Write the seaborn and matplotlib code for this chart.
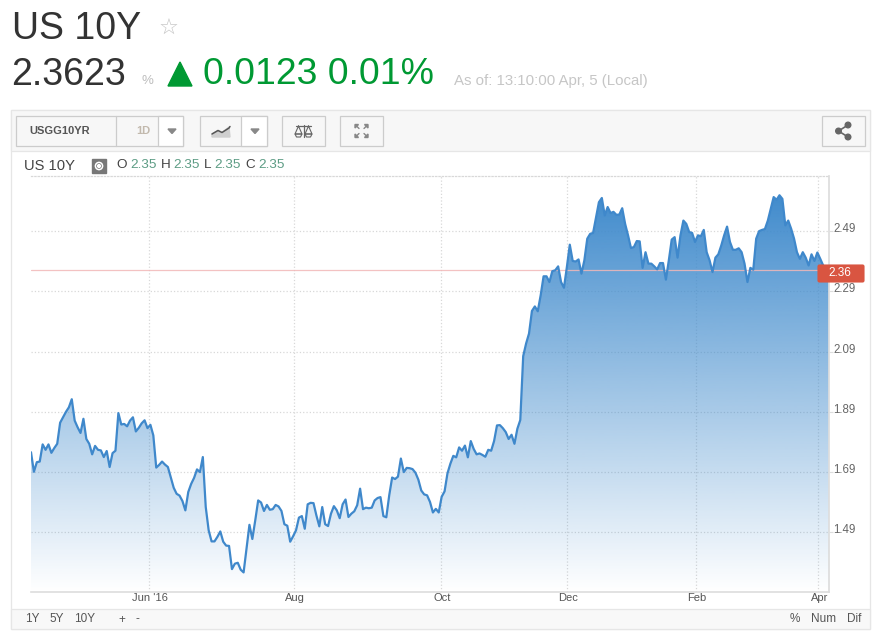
import numpy as np
import pandas as pd
import seaborn as sns
import matplotlib.pyplot as plt
from matplotlib.patches import Rectangle, Polygon, Circle, FancyBboxPatch
from matplotlib.transforms import ScaledTranslation

# daily closes of the US 10Y yield
yields_spring = [
    1.756, 1.691, 1.723, 1.725, 1.782, 1.764, 1.782, 1.754, 1.770, 1.784, 1.854, 1.872, 1.890, 1.905, 1.932,
    1.861, 1.839, 1.820, 1.867, 1.800, 1.784, 1.749, 1.777, 1.764, 1.762, 1.740, 1.760, 1.707, 1.753, 1.761,
    1.886, 1.848, 1.850, 1.842, 1.861, 1.872, 1.825, 1.837, 1.852, 1.862, 1.836, 1.847, 1.812, 1.705, 1.714,
    1.725, 1.715, 1.707, 1.673, 1.638, 1.618, 1.612, 1.594, 1.563, 1.624, 1.651, 1.671, 1.699, 1.690, 1.740,
    1.574, 1.497, 1.460, 1.460, 1.475, 1.493, 1.459, 1.446, 1.445, 1.368, 1.386, 1.389, 1.366, 1.357, 1.436,
    1.515, 1.468, 1.530, 1.596, 1.589, 1.561, 1.581, 1.565,
]
yields_summer = [
    1.567, 1.581, 1.576, 1.561, 1.517, 1.512, 1.459, 1.477, 1.497, 1.539, 1.544, 1.502, 1.583, 1.588, 1.587,
    1.546, 1.510, 1.574, 1.517, 1.511, 1.552, 1.577, 1.563, 1.537, 1.583, 1.599, 1.541, 1.552, 1.560, 1.580,
    1.635, 1.567, 1.572, 1.570, 1.572, 1.596, 1.604, 1.607, 1.544, 1.540, 1.613, 1.672, 1.667, 1.675, 1.735,
    1.690, 1.704, 1.703, 1.700, 1.688, 1.665, 1.629, 1.616, 1.613, 1.591, 1.556, 1.568, 1.556, 1.608, 1.626,
    1.686, 1.718, 1.744, 1.739, 1.772, 1.761, 1.778, 1.739, 1.793, 1.767, 1.749, 1.752, 1.747, 1.741, 1.764,
    1.761, 1.793, 1.845, 1.846, 1.836, 1.823, 1.800, 1.814, 1.784, 1.834, 1.863,
]
yields_winter = [
    2.075, 2.117, 2.150, 2.225, 2.240, 2.224, 2.277, 2.340, 2.340, 2.321, 2.357, 2.360, 2.373, 2.321, 2.302,
    2.371, 2.445, 2.391, 2.389, 2.396, 2.349, 2.393, 2.465, 2.481, 2.484, 2.536, 2.586, 2.600, 2.542, 2.570,
    2.550, 2.554, 2.544, 2.545, 2.566, 2.514, 2.476, 2.434, 2.437, 2.457, 2.456, 2.368, 2.420, 2.382, 2.382,
    2.373, 2.363, 2.384, 2.384, 2.329, 2.393, 2.462, 2.470, 2.402, 2.476, 2.525, 2.514, 2.487,
]
yields_q1 = [
    2.484, 2.454, 2.476, 2.473, 2.494, 2.420, 2.393, 2.354, 2.402, 2.413, 2.442, 2.476, 2.505, 2.454, 2.428,
    2.428, 2.433, 2.420, 2.382, 2.321, 2.368, 2.362, 2.465, 2.490, 2.494, 2.497, 2.525, 2.564, 2.603, 2.594,
    2.609, 2.597, 2.509, 2.525, 2.498, 2.465, 2.420, 2.398, 2.420, 2.402, 2.376, 2.413, 2.391, 2.419, 2.398,
    2.376, 2.368, 2.362,
]
last_yield = 2.3623

y_ticks = [1.49, 1.69, 1.89, 2.09, 2.29, 2.49]
x_tick_sessions = [40.4, 90.4, 140.8, 184.0, 228.2, 270.3]
x_tick_labels = ["Jun '16", "Aug", "Oct", "Dec", "Feb", "Apr"]

W, H = 874, 631
FONT = "Liberation Sans"
GREEN = "#009933"

sns.set_theme(style="white")
plt.rcParams["font.family"] = [FONT, "DejaVu Sans"]

fig = plt.figure(figsize=(W / 100, H / 100), dpi=100, facecolor="white")


def px_axes(left, top, right, bottom, **kwargs):
    return fig.add_axes([left / W, 1 - bottom / H, (right - left) / W, (bottom - top) / H], **kwargs)


# main chart
values = yields_spring + yields_summer + yields_winter + yields_q1
df = pd.DataFrame({"session": np.arange(len(values)), "yield": values})

ax = px_axes(31, 176, 829, 592)
ax.set_xlim(0, len(values) - 1)
ax.set_ylim(1.292, 2.673)

# gradient fill under the line, see-through so the grid shows where it is pale
fade = np.linspace(1, 0, 256)
gradient = np.zeros((256, 1, 4))
gradient[..., 0] = 0x3f / 255
gradient[..., 1] = 0x8a / 255
gradient[..., 2] = 0xcc / 255
gradient[..., 3] = fade[:, None]
img = ax.imshow(
    gradient,
    extent=[0, len(values) - 1, 1.292, 2.62],
    aspect="auto",
    origin="upper",
    zorder=2,
)
area = ax.fill_between(df["session"], df["yield"], 1.292, color="none", zorder=1)
img.set_clip_path(area.get_paths()[0], transform=ax.transData)
ax.set_xlim(0, len(values) - 1)
ax.set_ylim(1.292, 2.673)

ax.axhline(last_yield, color="#f2b8b8", alpha=0.85, linewidth=0.9, zorder=3)
sns.lineplot(data=df, x="session", y="yield", ax=ax, color="#3f88cb", linewidth=1.6, zorder=4)

ax.set_xlabel("")
ax.set_ylabel("")
ax.set_xticks(x_tick_sessions)
ax.set_xticklabels(x_tick_labels)
ax.set_yticks(y_ticks)
ax.set_yticklabels([f"{v:.2f}" for v in y_ticks])
ax.yaxis.tick_right()
ax.tick_params(axis="y", length=3, width=0.8, color="#dddddd", labelcolor="#666666", labelsize=8.3, pad=0.2)
ax.tick_params(axis="x", length=0, labelcolor="#555555", labelsize=8, pad=1)
ax.grid(True, linestyle=":", color="#d8d8d8", linewidth=0.9)
ax.set_axisbelow(True)
for tick_text in ax.get_yticklabels():
    tick_text.set_transform(tick_text.get_transform() + ScaledTranslation(0, 3.5 / 100, fig.dpi_scale_trans))
for tick_text in ax.get_xticklabels():
    tick_text.set_transform(tick_text.get_transform() + ScaledTranslation(1 / 100, 0, fig.dpi_scale_trans))
ax.spines["left"].set_visible(False)
ax.spines["top"].set_linestyle(":")
ax.spines["top"].set_color("#d8d8d8")
ax.spines["top"].set_linewidth(0.9)
ax.spines["right"].set_color("#dddddd")
ax.spines["bottom"].set_color("#dddddd")
ax.spines["bottom"].set_linewidth(1.2)

# page furniture, drawn in pixel coordinates
ui = fig.add_axes([0, 0, 1, 1], zorder=5)
ui.set_xlim(0, W)
ui.set_ylim(H, 0)
ui.axis("off")
ui.patch.set_alpha(0)


def label(x, y, s, size, color="#333333", **kwargs):
    kwargs.setdefault("va", "center")
    return ui.text(x, y, s, fontsize=size, color=color, **kwargs)


def box(x0, y0, x1, y1, face="none", edge="#cccccc", lw=0.9):
    ui.add_patch(Rectangle((x0, y0), x1 - x0, y1 - y0, facecolor=face, edgecolor=edge, linewidth=lw))


# header
label(12, 29, "US 10Y", 27)
label(159, 29, "\u2606", 16, color="#c4c4c4", family="DejaVu Sans")
label(11.5, 75, "2.3623", 27)
label(141, 81, "%", 9.5, color="#bdbdbd")
ui.add_patch(Polygon([(168, 86), (192, 86), (180, 62)], color=GREEN))
label(203, 75, "0.0123 0.01%", 26.9, color=GREEN)
label(454, 81, "As of: 13:10:00 Apr, 5 (Local)", 10.85, color="#c6c6c6")

# frame and toolbar
box(11, 110, 870, 629, edge="#e6e6e6")
box(11, 110, 870, 150.5, face="#f7f7f7", edge="#e6e6e6")
box(11, 609, 870, 629, face="#f8f8f8", edge="#e6e6e6")

box(16, 116, 183, 146, face="#f7f7f7")
box(158, 116, 183, 146, face="white")
ui.plot([116, 116], [116, 146], color="#cccccc", lw=0.9)
label(29, 131, "USGG10YR", 8, color="#555555", fontweight="bold")
label(136, 131, "1D", 8, color="#c2b9ad", fontweight="bold")
ui.add_patch(Polygon([(168, 129), (176, 129), (172, 133.5)], color="#888888"))

box(199.5, 116, 266.5, 146, face="#f7f7f7")
box(241, 116, 266.5, 146, face="white")
ui.add_patch(Polygon([(212, 137), (212, 134), (218, 130.5), (222, 132.5), (229, 127), (230, 137)], color="#cfcfcf"))
ui.plot([212, 218, 222, 229, 230], [134, 130.5, 132.5, 128, 126.5], color="#555555", lw=1.1)
ui.add_patch(Polygon([(251, 129), (259, 129), (255, 133.5)], color="#888888"))

box(282, 116, 325, 146, face="#f7f7f7")
ui.plot([296, 311], [126, 126], color="#666666", lw=0.9)
ui.plot([303.5, 303.5], [125, 137], color="#666666", lw=0.9)
for cx in (298.5, 308.5):
    ui.plot([cx, cx - 3.5, cx + 3.5, cx], [126, 134, 134, 126], color="#666666", lw=0.8)
    ui.add_patch(Polygon([(cx - 3.5, 134), (cx + 3.5, 134), (cx + 2, 137), (cx - 2, 137)], facecolor="none", edgecolor="#666666", lw=0.8))

box(340, 116, 383, 146, face="#f7f7f7")
for sx, sy in [(-1, -1), (1, -1), (-1, 1), (1, 1)]:
    cx, cy = 361.5 + sx * 5.5, 131 + sy * 5.5
    ui.plot([cx, cx + sx * 0.5 - sx * 3.5], [cy, cy - sy * 3], color="#888888", lw=1)
    ui.add_patch(Polygon([(cx + sx, cy + sy), (cx - sx * 2.5, cy + sy), (cx + sx, cy - sy * 2.5)], color="#888888"))

box(822, 116, 864.5, 146, face="#f7f7f7")
ui.plot([848, 838.5, 848], [125, 131, 137], color="#666666", lw=1.2)
for cx, cy, r in [(848, 125, 2.8), (838.5, 131, 2.8), (848, 137, 2.8)]:
    ui.add_patch(Circle((cx, cy), r, color="#666666"))

# price legend line
label(24, 165.5, "US 10Y", 10.6, color="#444444")
ui.add_patch(Rectangle((92, 159), 14, 14, color="#777777"))
ui.add_patch(Circle((99, 166), 3.6, facecolor="none", edgecolor="white", lw=1.1))
ui.add_patch(Circle((99, 166), 1.4, color="white"))
for x, s in [(116, "O"), (160.5, "H"), (204, "L"), (245, "C")]:
    label(x, 165.5, s, 9.7, color="#444444")
for x in (130, 173.5, 214.5, 258):
    label(x, 165.5, "2.35", 9.7, color="#5c9c84")

# last price tag
ui.add_patch(FancyBboxPatch((818, 265), 46, 17, boxstyle="round,pad=0,rounding_size=1.5", facecolor="#d95541", edgecolor="#d95541", lw=0.8))
label(840, 273.5, f"{last_yield:.2f}", 8.5, color="white", ha="center")

# range buttons
for x, s in [(25, "1Y"), (49, "5Y"), (74, "10Y"), (118, "+"), (135, "-"), (790, "%"), (811, "Num"), (847, "Dif")]:
    label(x, 619.5, s, 8.5, color="#555555")

fig.savefig("out.png", dpi=100)
